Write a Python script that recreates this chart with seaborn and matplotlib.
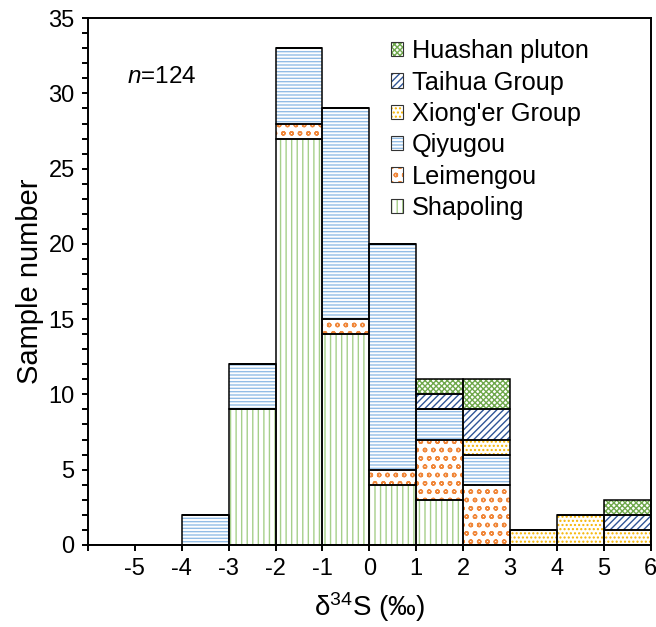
import numpy as np
import pandas as pd
import matplotlib
matplotlib.use("Agg")
import matplotlib.pyplot as plt
import seaborn as sns
from matplotlib.patches import Patch
from matplotlib.ticker import MultipleLocator, FixedLocator, FuncFormatter
from matplotlib.colors import to_rgb

# Left edges of the 1-permil bins and stacked counts per source
bin_left = [-4, -3, -2, -1, 0, 1, 2, 3, 4, 5]
shapoling = [0, 9, 27, 14, 4, 3, 0, 0, 0, 0]
leimengou = [0, 0, 1, 1, 1, 4, 4, 0, 0, 0]
qiyugou = [2, 3, 5, 14, 15, 2, 2, 0, 0, 0]
xionger = [0, 0, 0, 0, 0, 0, 1, 1, 2, 1]
taihua = [0, 0, 0, 0, 0, 1, 2, 0, 0, 1]
huashan = [0, 0, 0, 0, 0, 1, 2, 0, 0, 1]

groups = ["Huashan pluton", "Taihua Group", "Xiong'er Group",
          "Qiyugou", "Leimengou", "Shapoling"]
counts = [huashan, taihua, xionger, qiyugou, leimengou, shapoling]
hatch_colors = ["#6fa84c", "#2f5597", "#f5b400", "#93bde6", "#f0873a", "#a6cf8a"]
hatches = ["xxxxxx", "/////", "....", "-----", "oo", "|||"]
x_ticks = list(range(-6, 7))

sns.set_style("ticks")
plt.rcParams["font.family"] = ["Liberation Sans", "DejaVu Sans"]
plt.rcParams["mathtext.fontset"] = "custom"
plt.rcParams["mathtext.rm"] = "Liberation Sans"
plt.rcParams["mathtext.it"] = "Liberation Sans:italic"
plt.rcParams["axes.unicode_minus"] = False
plt.rcParams["hatch.linewidth"] = 1.0
plt.rcParams["text.color"] = "black"
plt.rcParams["axes.labelcolor"] = "black"

rows = []
for g, c in zip(groups, counts):
    for left, n in zip(bin_left, c):
        rows.append({"d34S": left + 0.5, "n": n, "group": g})
df = pd.DataFrame(rows)

fig = plt.figure(figsize=(6.56, 6.27), dpi=100)
ax = fig.add_axes([0.134, 0.131, 0.858, 0.840])

hist_kws = dict(data=df, x="d34S", weights="n", hue="group", hue_order=groups,
                multiple="stack", binwidth=1, binrange=(-6, 6), legend=False, ax=ax)

# Hatched fills
sns.histplot(palette=dict(zip(groups, hatch_colors)), alpha=1, linewidth=0, **hist_kws)
lookup = {tuple(np.round(to_rgb(c), 3)): i for i, c in enumerate(hatch_colors)}
for p in list(ax.patches):
    key = tuple(np.round(p.get_facecolor()[:3], 3))
    i = lookup.get(key)
    if i is None:
        continue
    p.set_facecolor("white")
    p.set_edgecolor(hatch_colors[i])
    p.set_hatch(hatches[i])
    p.set_linewidth(0)

# Black outlines of each stacked segment
sns.histplot(palette=dict(zip(groups, ["black"] * len(groups))), fill=False,
             linewidth=1.1, **hist_kws)

ax.set_xlim(-6, 6)
ax.set_ylim(0, 35)
ax.xaxis.set_major_locator(FixedLocator(x_ticks))
ax.xaxis.set_major_formatter(FuncFormatter(lambda v, pos: "" if v <= -6 else f"{v:g}"))
ax.yaxis.set_major_locator(MultipleLocator(5))
ax.yaxis.set_minor_locator(MultipleLocator(1))
ax.tick_params(axis="both", which="both", direction="out", width=1.4, length=4.5,
               labelsize=17, color="black", labelcolor="black")
ax.tick_params(axis="x", pad=5)
ax.tick_params(axis="y", pad=5)
for s in ax.spines.values():
    s.set_visible(True)
    s.set_linewidth(1.4)
    s.set_color("black")

ax.set_xlabel("δ$^{34}$S (‰)", fontsize=20, labelpad=7)
ax.set_ylabel("Sample number", fontsize=21, labelpad=3)

ax.text(0.07, 0.888, "$n$=124", transform=ax.transAxes, fontsize=17.5, va="center")

handles = [
    (Patch(facecolor="white", edgecolor=c, hatch=h, linewidth=0),
     Patch(facecolor="none", edgecolor="#333333", linewidth=0.8))
    for c, h in zip(hatch_colors, hatches)
]
ax.legend(handles, groups, loc="upper left", bbox_to_anchor=(0.538, 0.96),
          frameon=False, handlelength=0.5, handleheight=0.5,
          handletextpad=0.35, labelspacing=0.29, borderpad=0, borderaxespad=0,
          fontsize=18.2)

fig.savefig("out.png", dpi=100)
